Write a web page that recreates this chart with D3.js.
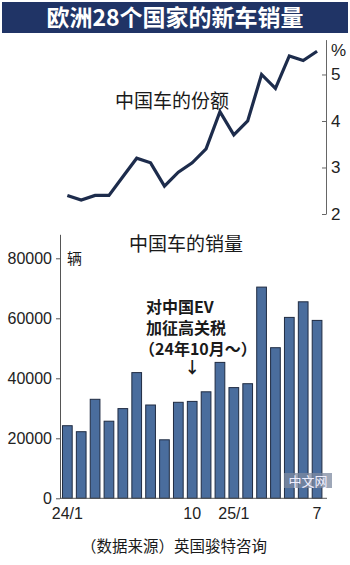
<!DOCTYPE html>
<html>
<head>
<meta charset="utf-8">
<script src="https://cdn.jsdelivr.net/npm/d3@7"></script>
<style>
  body { margin: 0; background: #fff; }
  svg { display: block; }
  .num { font-family: "Liberation Sans", Arial, sans-serif; font-size: 16px; fill: #222; }
  .cjk { font-family: "Noto Sans CJK SC", sans-serif; fill: #1a1a1a; }
</style>
</head>
<body>
<svg width="350" height="565"></svg>
<script>
// months 24/1 .. 25/7
var months = ["24/1","24/2","24/3","24/4","24/5","24/6","24/7","24/8","24/9","24/10","24/11","24/12",
              "25/1","25/2","25/3","25/4","25/5","25/6","25/7"];
var share = [2.4, 2.3, 2.4, 2.4, 2.8, 3.2, 3.1, 2.6, 2.9, 3.1, 3.4, 4.2, 3.7, 4.0, 5.0, 4.7, 5.4, 5.3, 5.5];
var sales = [24200, 22200, 33000, 25700, 29900, 41900, 31100, 19500, 32000, 32300, 35500, 45300,
             36900, 38200, 70400, 50200, 60300, 65500, 59300];
var shareTicks = [2, 3, 4, 5];
var salesTicks = [0, 20000, 40000, 60000, 80000];
var xLabels = {"24/1": "24/1", "24/10": "10", "25/1": "25/1", "25/7": "7"};

var svg = d3.select("svg");

// title bar
svg.append("rect").attr("x", 2).attr("y", 2).attr("width", 346).attr("height", 31)
  .attr("fill", "#203466");
svg.append("text").attr("x", 175).attr("y", 26).attr("text-anchor", "middle")
  .attr("class", "cjk").style("fill", "#fff").style("font-size", "23px").style("font-weight", "bold")
  .text("欧洲28个国家的新车销量");

var x = d3.scaleBand().domain(months).range([60.4, 324]).paddingInner(0.3).paddingOuter(0.15);
var cx = d => x(d) + x.bandwidth() / 2;

// ---- share line ----
var yShare = d3.scaleLinear().domain([2, 5.75]).range([214, 39.6]);

var rightAxis = d3.axisRight(yShare).tickValues(shareTicks).tickSizeInner(-4).tickSizeOuter(0).tickPadding(5)
  .tickFormat(d3.format("d"));
var gR = svg.append("g").attr("transform", "translate(326,0)").call(rightAxis);
gR.select(".domain").attr("stroke", "#666");
gR.selectAll(".tick line").attr("stroke", "#666");
gR.selectAll("text").attr("class", "num").style("font-size", "17px").attr("fill", null);
svg.append("text").attr("class", "num").attr("x", 331).attr("y", 56).style("font-size", "17px").text("%");

var line = d3.line().x((d, i) => cx(months[i])).y(d => yShare(d));
svg.append("path").datum(share).attr("d", line)
  .attr("fill", "none").attr("stroke", "#1d2c4c").attr("stroke-width", 3.2)
  .attr("stroke-linejoin", "miter");

svg.append("text").attr("class", "cjk").attr("x", 172).attr("y", 108).attr("text-anchor", "middle")
  .style("font-size", "19px").text("中国车的份额");

// ---- sales bars ----
var ySales = d3.scaleLinear().domain([0, 88000]).range([498.3, 234.3]);

svg.selectAll("rect.bar").data(sales).enter().append("rect").attr("class", "bar")
  .attr("x", (d, i) => x(months[i]))
  .attr("width", x.bandwidth())
  .attr("y", d => ySales(d))
  .attr("height", d => ySales(0) - ySales(d))
  .attr("fill", "#4a6d9d").attr("stroke", "#1f2b42").attr("stroke-width", 1);

var leftAxis = d3.axisLeft(ySales).tickValues(salesTicks).tickSizeInner(4).tickSizeOuter(0).tickPadding(4)
  .tickFormat(d3.format("d"));
var gL = svg.append("g").attr("transform", "translate(60,0)").call(leftAxis);
gL.select(".domain").attr("stroke", "#555");
gL.selectAll(".tick line").attr("stroke", "#555");
gL.selectAll("text").attr("class", "num").attr("fill", null);

var bottomAxis = d3.axisBottom(x).tickSize(0).tickPadding(9).tickFormat(d => xLabels[d] || "");
var gB = svg.append("g").attr("transform", "translate(0,498.3)").call(bottomAxis);
gB.select(".domain").attr("d", "M60,0H327").attr("stroke", "#555");
gB.selectAll("text").attr("class", "num").attr("fill", null);

svg.append("text").attr("class", "cjk").attr("x", 186).attr("y", 251).attr("text-anchor", "middle")
  .style("font-size", "19px").text("中国车的销量");
svg.append("text").attr("class", "cjk").attr("x", 67).attr("y", 264)
  .style("font-size", "15px").text("辆");

// annotation
var notes = ["对中国EV", "加征高关税", "（24年10月～）"];
svg.selectAll("text.note").data(notes).enter().append("text").attr("class", "cjk note")
  .attr("x", (d, i) => i < 2 ? 146 : 139).attr("y", (d, i) => 313 + i * 21)
  .style("font-size", "16px").style("font-weight", "bold").text(d => d);
svg.append("text").attr("class", "cjk").attr("x", cx("24/10")).attr("y", 373).attr("text-anchor", "middle")
  .style("font-size", "16px").style("font-weight", "bold").text("↓");

// watermark
svg.append("rect").attr("x", 284).attr("y", 473).attr("width", 48).attr("height", 15)
  .attr("fill", "#7d8aa0").attr("opacity", 0.75);
svg.append("text").attr("class", "cjk").attr("x", 308).attr("y", 486).attr("text-anchor", "middle")
  .style("font-size", "13px").style("fill", "#eef").text("中文网");

// source
svg.append("text").attr("class", "cjk").attr("x", 174).attr("y", 552).attr("text-anchor", "middle")
  .style("font-size", "15.5px").text("（数据来源）英国骏特咨询");
</script>
</body>
</html>
